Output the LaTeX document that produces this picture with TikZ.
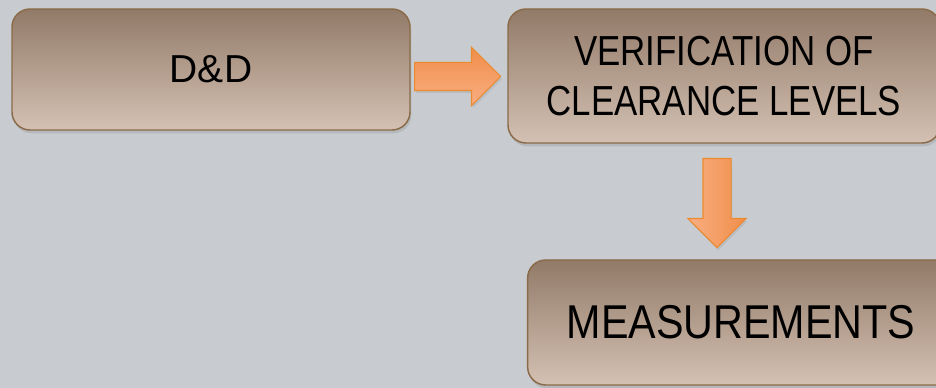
\documentclass[tikz,border=0pt]{standalone}
\usepackage{fontspec}
\setmainfont{Liberation Sans}
\newfontfamily\narrowsf[FakeStretch=0.83]{Liberation Sans}
\newfontfamily\midsf[FakeStretch=0.87]{Liberation Sans}
\usetikzlibrary{shapes.arrows, shadows}
\definecolor{slidebg}{HTML}{C8CCD0}
\definecolor{boxtop}{HTML}{927A68}
\definecolor{boxbot}{HTML}{D4C1B3}
\definecolor{boxline}{HTML}{8A6A48}
\definecolor{arrdark}{HTML}{F08E4A}
\definecolor{arrlight}{HTML}{F9AE82}
\definecolor{arrline}{HTML}{EC8A30}
\tikzset{
    box/.style={rounded corners=13.5pt, draw=boxline, line width=1.1pt,
        top color=boxtop, bottom color=boxbot, align=center, text=black,
        drop shadow={shadow xshift=1pt, shadow yshift=-2.5pt, opacity=0.25}},
    flow/.style={single arrow, draw=arrline, line width=0.8pt, inner sep=10.125pt,
        single arrow head extend=11.25pt, anchor=tail,
        drop shadow={shadow xshift=1pt, shadow yshift=-2pt, opacity=0.2}}
}

\begin{document}
\begin{tikzpicture}[x=0.75pt, y=-0.75pt]
    \useasboundingbox (0,0) rectangle (936,388);
    \clip (0,0) rectangle (936,388);
    \fill[slidebg] (0,0) rectangle (936,388);
    % boxes
    \node[box, minimum width=298.5pt, minimum height=90.75pt,
        font=\fontsize{29.25}{35}\selectfont] (dd) at (211,69.5) {D\&D};
    \node[box, minimum width=324pt, minimum height=100.5pt,
        font=\narrowsf\fontsize{31.5}{38}\selectfont] (ver) at (724,76) {VERIFICATION OF\\CLEARANCE LEVELS};
    \node[box, minimum width=320pt, minimum height=93.75pt,
        font=\midsf\fontsize{35.6}{42}\selectfont] (ms) at (741,322.5) {MEASUREMENTS};
    % arrows
    \node[flow, minimum height=64.5pt, top color=arrdark, bottom color=arrlight] (a1) at (414,76.5) {};
    \node[flow, minimum height=66.75pt, shape border rotate=270,
        left color=arrlight, right color=arrdark] (a2) at (717,158) {};
\end{tikzpicture}
\end{document}
